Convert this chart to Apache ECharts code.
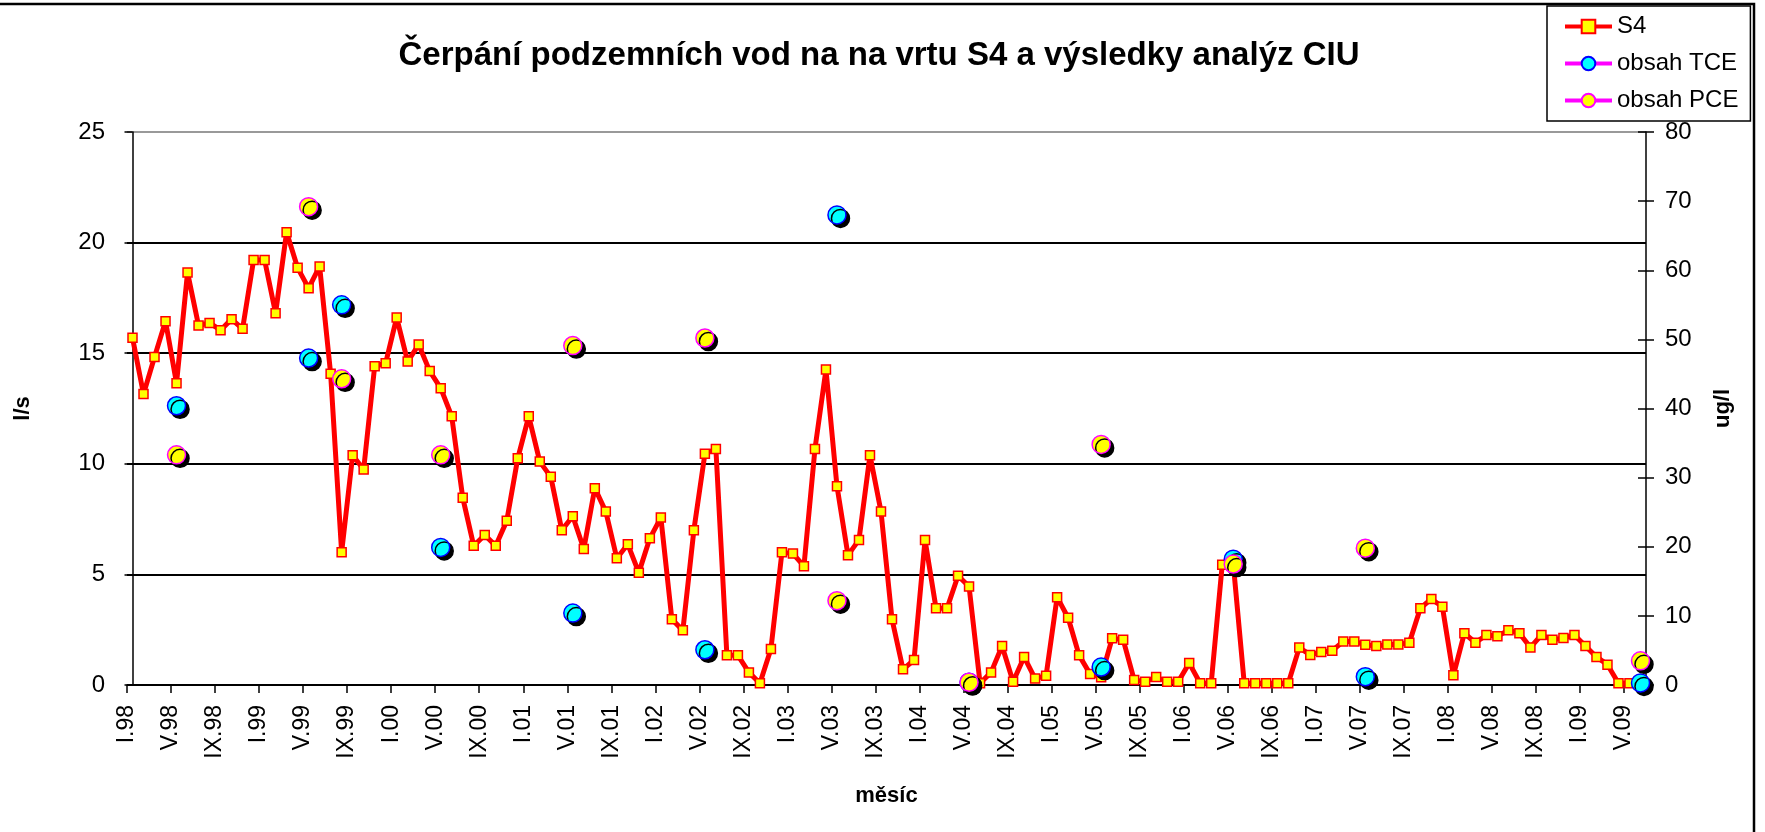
<!DOCTYPE html>
<html>
<head>
<meta charset="utf-8">
<script src="https://cdn.jsdelivr.net/npm/echarts@6/dist/echarts.min.js"></script>
<style>
html,body{margin:0;padding:0;background:#fff;}
#chart{width:1765px;height:832px;}
</style>
</head>
<body>
<div id="chart"></div>
<script>
// ---- data ----
const romanMonths = ['I','II','III','IV','V','VI','VII','VIII','IX','X','XI','XII'];
const startYear = 1998;
const monthCount = 138; // I.98 .. VI.09
const categories = [];
for (let i = 0; i < monthCount; i++) {
  const y = startYear + Math.floor(i / 12);
  categories.push(romanMonths[i % 12] + '.' + String(y % 100).padStart(2, '0'));
}
// S4 pumping rate [l/s], monthly from I.98
const s4Values = [
  15.7, 13.15, 14.83, 16.45, 13.64, 18.65, 16.25, 16.37, 16.04, 16.54, 16.10, 19.21,
  19.21, 16.81, 20.47, 18.86, 17.94, 18.92, 14.07, 6.0, 10.39, 9.74, 14.41, 14.55,
  16.61, 14.62, 15.39, 14.19, 13.42, 12.15, 8.47, 6.29, 6.78, 6.29, 7.42, 10.25,
  12.15, 10.10, 9.41, 7.0, 7.63, 6.15, 8.90, 7.84, 5.73, 6.36, 5.08, 6.63,
  7.57, 2.97, 2.47, 7.0, 10.45, 10.67, 1.34, 1.34, 0.57, 0.08, 1.63, 6.0,
  5.94, 5.37, 10.67, 14.26, 8.99, 5.87, 6.56, 10.39, 7.84, 2.97, 0.71, 1.13,
  6.56, 3.47, 3.47, 4.94, 4.45, 0.08, 0.57, 1.76, 0.15, 1.27, 0.29, 0.42,
  3.97, 3.04, 1.34, 0.50, 0.35, 2.11, 2.05, 0.23, 0.15, 0.36, 0.15, 0.15,
  0.99, 0.08, 0.08, 5.44, 5.5, 0.08, 0.08, 0.08, 0.08, 0.08, 1.69, 1.36,
  1.49, 1.55, 1.97, 1.97, 1.82, 1.76, 1.83, 1.83, 1.91, 3.47, 3.89, 3.54,
  0.44, 2.34, 1.91, 2.26, 2.20, 2.48, 2.34, 1.70, 2.26, 2.05, 2.12, 2.26,
  1.76, 1.27, 0.92, 0.08, 0.08
];
// analysis results [ug/l] – month index (from I.98) and value
const sampleMonths = [4, 16, 19, 28, 40, 52, 64, 76, 88, 100, 112, 137];
const tceValues    = [40.4, 47.3, 55.0, 19.9, 10.4, 5.1, 68.0, 0.4, 2.6, 18.2, 1.2, 0.3];
const pceValues    = [33.3, 69.2, 44.3, 33.3, 49.1, 50.2, 12.2, 0.4, 34.8, 17.5, 19.8, 3.5];
// x tick labels every 4 months
const tickStep = 4;

// ---- build ----
const FONT = "'Liberation Sans', Arial, sans-serif";
const s4Data = s4Values.map((v, i) => [i, v]);
function sparse(vals) {
  const arr = [];
  for (let i = 0; i < monthCount; i++) arr.push([i, null]);
  sampleMonths.forEach((m, k) => { arr[m] = [m, vals[k]]; });
  return arr;
}
const tickPositions = [];
for (let i = 0; i < monthCount; i += tickStep) tickPositions.push(i - 0.5);

const chart = echarts.init(document.getElementById('chart'), null, {renderer: 'canvas'});
const dotShadow = {shadowColor: '#000', shadowOffsetX: 3.5, shadowOffsetY: 3.5, shadowBlur: 0};
const option = {
  backgroundColor: '#fff',
  animation: false,
  textStyle: {fontFamily: FONT},
  title: {
    text: 'Čerpání podzemních vod na na vrtu S4 a výsledky analýz CIU',
    left: 874, top: 34, textAlign: 'center',
    textStyle: {fontSize: 33, fontWeight: 'bold', color: '#000', fontFamily: FONT}
  },
  legend: {
    orient: 'vertical', left: 1547, top: 6,
    padding: [8, 12, 8, 16], itemGap: 12, itemWidth: 47, itemHeight: 17, itemTextGap: 7,
    borderColor: '#000', borderWidth: 1.5, backgroundColor: '#fff',
    textStyle: {fontSize: 24, color: '#000', fontFamily: FONT, lineHeight: 25},
    lineStyle: {width: 4},
    itemStyle: {shadowColor: 'rgba(0,0,0,0)', shadowOffsetX: 0, shadowOffsetY: 0, shadowBlur: 0},
    data: ['S4', 'obsah TCE', 'obsah PCE']
  },
  graphic: [{
    type: 'rect', z: -1, silent: true,
    shape: {x: -10, y: 4, width: 1764, height: 845},
    style: {fill: null, stroke: '#000', lineWidth: 2.5}
  }],
  grid: {left: 127, right: 119, top: 132, bottom: 147, containLabel: false},
  xAxis: {
    type: 'value', min: -0.5, max: monthCount - 0.5,
    name: 'měsíc', nameLocation: 'middle', nameGap: 100,
    nameTextStyle: {fontSize: 22, fontWeight: 'bold', color: '#000', fontFamily: FONT},
    axisLine: {show: true, onZero: false, lineStyle: {color: '#000', width: 1.5}},
    axisTick: {show: true, length: 8, lineStyle: {color: '#000', width: 1.5}, customValues: tickPositions},
    axisLabel: {
      rotate: 90, margin: 20, fontSize: 23, color: '#000', fontFamily: FONT,
      customValues: tickPositions,
      formatter: v => categories[Math.round(v + 0.5)] || ''
    },
    splitLine: {show: false}
  },
  yAxis: [{
    type: 'value', min: 0, max: 25, interval: 5, position: 'left',
    name: 'l/s', nameLocation: 'middle', nameGap: 93, nameRotate: 90,
    nameTextStyle: {fontSize: 22, fontWeight: 'bold', color: '#000', fontFamily: FONT},
    axisLine: {show: true, lineStyle: {color: '#000', width: 1.5}},
    axisTick: {show: true, length: 8, lineStyle: {color: '#000', width: 1.5}},
    axisLabel: {margin: 22, fontSize: 24, color: '#000', fontFamily: FONT},
    splitLine: {show: true, lineStyle: {color: ['#000', '#000', '#000', '#000', '#000', '#999'], width: 2}}
  }, {
    type: 'value', min: 0, max: 80, interval: 10, position: 'right',
    name: 'ug/l', nameLocation: 'middle', nameGap: 66, nameRotate: 90,
    nameTextStyle: {fontSize: 22, fontWeight: 'bold', color: '#000', fontFamily: FONT},
    axisLine: {show: true, lineStyle: {color: '#000', width: 1.5}},
    axisTick: {show: true, length: 8, lineStyle: {color: '#000', width: 1.5}},
    axisLabel: {margin: 19, fontSize: 24, color: '#000', fontFamily: FONT},
    splitLine: {show: false}
  }, {
    type: 'value', min: 0, max: 80, interval: 10, position: 'right',
    axisLine: {show: false},
    axisTick: {show: true, inside: true, length: 8, lineStyle: {color: '#000', width: 1.5}},
    axisLabel: {show: false},
    splitLine: {show: false}
  }],
  series: [{
    name: 'S4', type: 'line', yAxisIndex: 0, data: s4Data, z: 2,
    symbol: 'rect', symbolSize: 9, showAllSymbol: true,
    lineStyle: {color: '#ff0000', width: 5},
    itemStyle: {color: '#ffff00', borderColor: '#ff0000', borderWidth: 1.5}
  }, {
    name: 'obsah TCE', type: 'line', yAxisIndex: 1, data: sparse(tceValues), z: 3,
    symbol: 'circle', symbolSize: 18, showAllSymbol: true, connectNulls: false,
    lineStyle: {color: '#ff00ff', width: 4},
    itemStyle: Object.assign({color: '#00ffff', borderColor: '#0000ff', borderWidth: 1.5}, dotShadow)
  }, {
    name: 'obsah PCE', type: 'line', yAxisIndex: 1, data: sparse(pceValues), z: 4,
    symbol: 'circle', symbolSize: 18, showAllSymbol: true, connectNulls: false,
    lineStyle: {color: '#ff00ff', width: 4},
    itemStyle: Object.assign({color: '#ffff00', borderColor: '#ff00ff', borderWidth: 1.5}, dotShadow)
  }]
};
chart.setOption(option);
</script>
</body>
</html>
